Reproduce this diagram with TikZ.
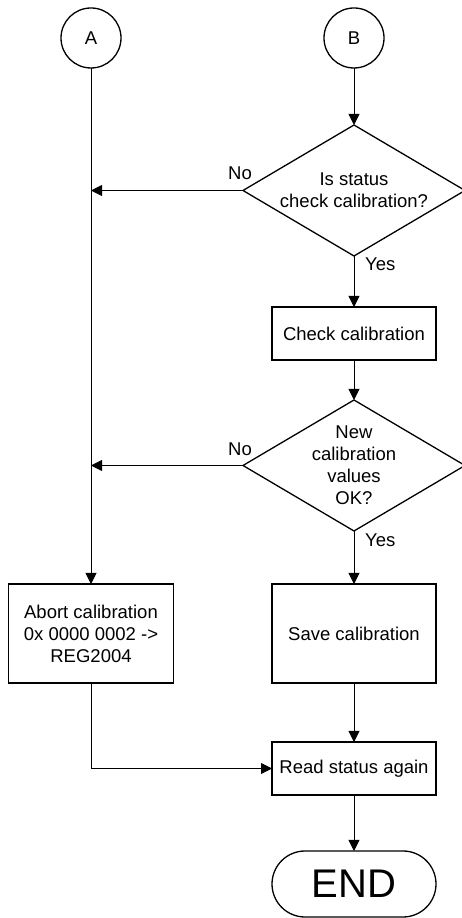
\documentclass[tikz,border=0pt]{standalone}
\usepackage{fontspec}
\setmainfont{Liberation Sans}
\usetikzlibrary{positioning,arrows.meta,shapes.geometric,calc}

\begin{document}
\begin{tikzpicture}[x=1pt,y=1pt,font=\fontsize{18.5}{22}\selectfont,
  st/.style={draw=black,line width=1.3pt,align=center,minimum height=53pt,minimum width=164pt,inner sep=2pt,outer sep=0pt},
  dc/.style={draw=black,line width=1.3pt,shape=diamond,aspect=1.69,minimum width=222pt,minimum height=131pt,inner sep=0pt,outer sep=0pt,align=center},
  cn/.style={draw=black,line width=1.3pt,circle,minimum size=60pt,inner sep=0pt,outer sep=0pt},
  ar/.style={-{Triangle[length=11pt,width=11pt]},line width=0.9pt},
  lb/.style={inner sep=2pt}]
  \useasboundingbox (0,0) rectangle (462,918);
  \node[cn] (A) at (91,880) {A};
  \node[cn,right=203pt of A] (B) {B};
  \node[dc,below=57pt of B] (q1) {Is status\\ check calibration?};
  \node[st,below=51pt of q1] (chk) {Check calibration};
  \node[dc,below=40pt of chk] (q2) {New\\ calibration\\ values\\ OK?};
  \node[st,minimum height=99pt,below=53pt of q2] (save) {Save calibration};
  \node[st,minimum height=99pt,minimum width=165pt] (abort) at (A |- save) {Abort calibration\\ 0x 0000 0002 ->\\ REG2004};
  \node[st,below=59pt of save] (read) {Read status again};
  \node[st,rounded corners=33pt,minimum height=66pt,font=\fontsize{40}{44}\selectfont,below=56pt of read] (end) {END};
  \coordinate (n1) at (q1.west -| A);
  \coordinate (n2) at (q2.west -| A);
  \node[lb] (no1) at ($(q1.west)+(-3,17)$) {No};
  \node[lb] (no2) at ($(q2.west)+(-3,16)$) {No};
  \node[lb,anchor=west] (yes1) at ($(q1.south)+(9,-8)$) {Yes};
  \node[lb,anchor=west] (yes2) at ($(q2.south)+(9,-9)$) {Yes};
  \draw[ar] (B) -- (q1);
  \draw[ar] (q1) -- (chk);
  \draw[ar] (chk) -- (q2);
  \draw[ar] (q2) -- (save);
  \draw[ar] (save) -- (read);
  \draw[ar] (read) -- (end);
  \draw[ar] (A) -- (abort);
  \draw[ar] (q1) -- (n1);
  \draw[ar] (q2) -- (n2);
  \draw[ar] (abort) |- (read);
\end{tikzpicture}
\end{document}
